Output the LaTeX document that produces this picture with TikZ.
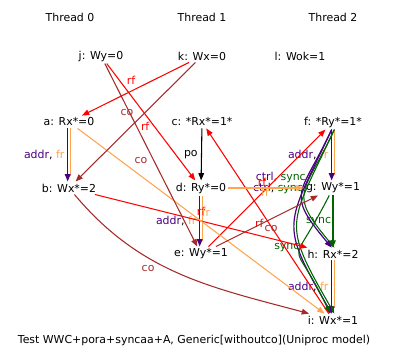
\documentclass[tikz,border=0pt]{standalone}
\usepackage{fontspec}
\setmainfont{DejaVu Sans}
\usetikzlibrary{arrows.meta}

\definecolor{addrcol}{RGB}{75,0,130}
\definecolor{frcol}{RGB}{255,165,79}
\definecolor{cocol}{RGB}{165,42,42}
\definecolor{synccol}{RGB}{0,100,0}

\begin{document}
\begin{tikzpicture}[
        x=0.75pt,
        y=0.75pt,
        font=\fontsize{8.2}{10}\selectfont,
        evt/.style={inner sep=1.5pt},
        lbl/.style={inner sep=0.5pt, text=black},
        rel/.style={line width=0.8pt, -{Triangle[length=5.5pt,width=4.2pt]}},
        twin/.style={line width=0.9pt, shorten >=4pt},
        rfedge/.style={rel, red},
        fredge/.style={rel, frcol},
        coedge/.style={rel, cocol},
        poedge/.style={rel, black},
        addredge/.style={rel, line width=0.9pt, addrcol},
        syncedge/.style={rel, synccol}
        ]

\useasboundingbox (0,0) rectangle (398,-361);

%threads
\node[evt] (t0) at (70,-17) {Thread 0};
\node[evt] (t1) at (202,-17) {Thread 1};
\node[evt] (t2) at (333,-17) {Thread 2};

%init writes
\node[evt] (j) at (101,-56) {j: Wy=0};
\node[evt] (k) at (202,-56) {k: Wx=0};
\node[evt] (l) at (300,-56) {l: Wok=1};

%events
\node[evt] (a) at (69,-122) {a: Rx*=0};
\node[evt] (b) at (69,-188) {b: Wx*=2};
\node[evt] (c) at (202,-122) {c: *Rx*=1*};
\node[evt] (d) at (201,-188) {d: Ry*=0};
\node[evt] (e) at (201,-254) {e: Wy*=1};
\node[evt] (f) at (333,-122) {f: *Ry*=1*};
\node[evt] (g) at (333,-188) {g: Wy*=1};
\node[evt] (h) at (333,-254) {h: Rx*=2};
\node[evt] (i) at (333,-320) {i: Wx*=1};

%caption
\node[evt] (cap) at (194,-340) {Test WWC+pora+syncaa+A, Generic[withoutco](Uniproc model)};

%program order and dependencies
\draw[twin, frcol] ([xshift=1pt]a.south) -- ([xshift=1pt]b.north);
\draw[addredge] ([xshift=-1pt]a.south) -- node[lbl, left=1.5pt]
        {{\color{addrcol}addr}, {\color{frcol}fr}} ([xshift=-1pt]b.north);
\draw[poedge] (c) -- node[lbl, left=2pt] {po} (d);
\draw[twin, frcol] ([xshift=1pt]d.south) -- ([xshift=1pt]e.north);
\draw[addredge] ([xshift=-1pt]d.south) -- node[lbl, left=1.5pt]
        {{\color{addrcol}addr}, {\color{frcol}fr}} ([xshift=-1pt]e.north);
\draw[twin, frcol] ([xshift=1pt]f.south) -- ([xshift=1pt]g.north);
\draw[addredge] ([xshift=-1pt]f.south) -- node[lbl, left=1.5pt]
        {{\color{addrcol}addr}, {\color{frcol}fr}} ([xshift=-1pt]g.north);
\draw[twin, frcol] ([xshift=1pt]h.south) -- ([xshift=1pt]i.north);
\draw[addredge] ([xshift=-1pt]h.south) -- node[lbl, left=1.5pt]
        {{\color{addrcol}addr}, {\color{frcol}fr}} ([xshift=-1pt]i.north);
\draw[syncedge] (g) -- node[lbl, left=0.5pt] {\color{synccol}sync} (h);

%ctrl and sync curves
\draw[syncedge] ([xshift=1pt]f.south) to[out=245, in=130, looseness=1.6] ([xshift=1pt]h.north);
\draw[addredge] ([xshift=-1pt]f.south) to[out=245, in=130, looseness=1.6]
        node[lbl, pos=0.34, anchor=east]
        {{\color{addrcol}ctrl}, {\color{synccol}sync}} ([xshift=-1pt]h.north);
\draw[syncedge] ([xshift=1pt]f.south) to[out=245, in=120, looseness=1.5] ([xshift=1pt]i.north);
\draw[addredge] ([xshift=-1pt]f.south) to[out=245, in=120, looseness=1.5]
        node[lbl, pos=0.26, anchor=east]
        {{\color{addrcol}ctrl}, {\color{synccol}sync}} ([xshift=-1pt]i.north);
\draw[syncedge] (g) to[out=243, in=115, looseness=2]
        node[lbl, pos=0.38, anchor=east] {\color{synccol}sync} (i);

%read from
\draw[rfedge] (k) -- node[lbl, pos=0.54, above=4pt] {\color{red}rf} (a);
\draw[rfedge] (j) -- node[lbl, pos=0.54, left=3pt] {\color{red}rf} (d);
\draw[rfedge] (b) -- node[lbl, pos=0.5, above=3pt] {\color{red}rf} (h);
\draw[rfedge] (e) -- node[lbl, pos=0.55, left=4pt] {\color{red}rf} (f);
\draw[rfedge] (i) -- node[lbl, pos=0.49, left=3pt] {\color{red}rf} (c);

%from read
\draw[fredge] (a) -- node[lbl, pos=0.52, above=5pt] {\color{frcol}fr} (i);
\draw[fredge] (d) -- node[lbl, pos=0.49, yshift=-3pt] {\color{frcol}fr} (g);

%coherence
\draw[coedge] (j) -- node[lbl, pos=0.53, left=4pt] {\color{cocol}co} (e);
\draw[coedge] (k) -- node[lbl, pos=0.42, left=8pt] {\color{cocol}co} (b);
\draw[coedge] (e) -- node[lbl, pos=0.54, below=4pt] {\color{cocol}co} (g);
\draw[coedge] (b) to[out=-50, in=165]
        node[lbl, pos=0.4, below left=1pt] {\color{cocol}co} (i);
\end{tikzpicture}
\end{document}
